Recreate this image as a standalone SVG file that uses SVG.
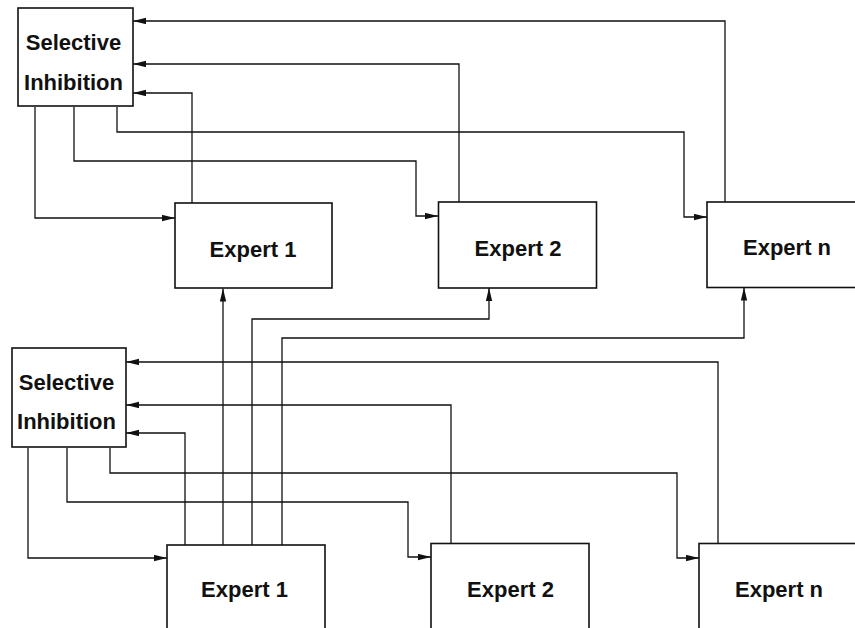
<svg xmlns="http://www.w3.org/2000/svg" width="855" height="628" viewBox="0 0 855 628">
<style>
.box{fill:#fff;stroke:#111;stroke-width:1.6}
.lbl{font-family:"Liberation Sans",Arial,sans-serif;font-weight:bold;font-size:22px;fill:#111;text-anchor:middle}
.c{fill:none;stroke:#111;stroke-width:1.3;marker-end:url(#ah)}
</style>
<defs>
<marker id="ah" markerUnits="userSpaceOnUse" markerWidth="14" markerHeight="7" refX="13" refY="3.2" orient="auto">
<path d="M0,0 L13,3.2 L0,6.4 z" fill="#111"/>
</marker>
</defs>
<rect width="855" height="628" fill="#fff"/>
<g id="connectors">
<path class="c" d="M725,202 V21 H133"/>
<path class="c" d="M459,202 V64 H133"/>
<path class="c" d="M192,203 V93 H133"/>
<path class="c" d="M35,107 V218 H175"/>
<path class="c" d="M74,107 V161 H416 V216 H438"/>
<path class="c" d="M117,107 V132 H684 V217 H707"/>
<path class="c" d="M223,545 V288.5"/>
<path class="c" d="M252,545 V319 H489 V288"/>
<path class="c" d="M282,545 V338 H744 V287.5"/>
<path class="c" d="M718,544 V362 H126"/>
<path class="c" d="M451,544 V405 H126"/>
<path class="c" d="M185,545 V433 H126"/>
<path class="c" d="M28,448 V558 H167"/>
<path class="c" d="M67,448 V502 H408 V557 H431"/>
<path class="c" d="M110,448 V473 H677 V558 H699"/>
</g>
<g id="si1"><rect class="box" x="18" y="8" width="115" height="98"/><text class="lbl" x="73.5" y="50">Selective</text><text class="lbl" x="73.5" y="90">Inhibition</text></g>
<g id="e1t"><rect class="box" x="175" y="203" width="157" height="85"/><text class="lbl" x="253" y="256.5">Expert 1</text></g>
<g id="e2t"><rect class="box" x="438.5" y="202" width="158" height="86"/><text class="lbl" x="518" y="256">Expert 2</text></g>
<g id="ent"><rect class="box" x="707" y="202" width="161" height="85.5"/><text class="lbl" x="787" y="255">Expert n</text></g>
<g id="si2"><rect class="box" x="12" y="348" width="114" height="99"/><text class="lbl" x="66.5" y="390">Selective</text><text class="lbl" x="66.5" y="429">Inhibition</text></g>
<g id="e1b"><rect class="box" x="167" y="545" width="158" height="100"/><text class="lbl" x="244.5" y="597">Expert 1</text></g>
<g id="e2b"><rect class="box" x="431" y="543.5" width="158" height="100"/><text class="lbl" x="510.5" y="597">Expert 2</text></g>
<g id="enb"><rect class="box" x="699" y="543.5" width="160" height="100"/><text class="lbl" x="779" y="597">Expert n</text></g>
</svg>
